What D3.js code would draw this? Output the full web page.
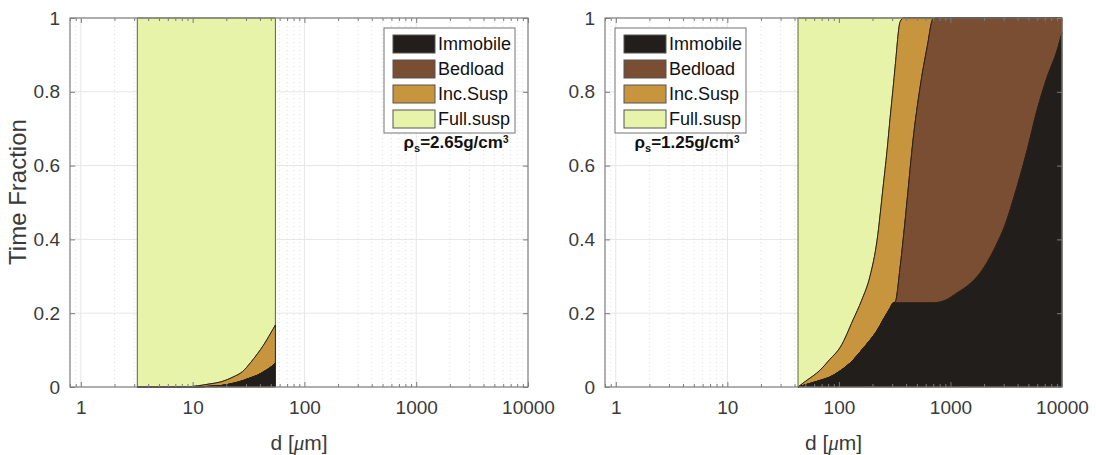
<!DOCTYPE html>
<html>
<head>
<meta charset="utf-8">
<script src="https://cdn.jsdelivr.net/npm/d3@7"></script>
<style>
  body { margin: 0; background: #fff; }
  text { font-family: "Liberation Sans", Arial, sans-serif; }
</style>
</head>
<body>
<svg id="chart" width="1096" height="455"></svg>
<script>
// classes, bottom to top
var classes = ["Immobile", "Bedload", "Inc.Susp", "Full.susp"];
var colors = ["#221e1b", "#7a4e33", "#c8953f", "#e6f3a8"];

var xTicks = [1, 10, 100, 1000, 10000];
var yTicks = [0, 0.2, 0.4, 0.6, 0.8, 1];

// rho_s = 2.65 g/cm3
var dLeft        = [3.2, 5, 8, 11, 14, 18, 23, 28, 33, 38, 43, 48, 52, 55];
var immobileLeft = [0, 0, 0, 0, 0.002, 0.004, 0.01, 0.017, 0.025, 0.032, 0.041, 0.05, 0.058, 0.065];
var bedloadLeft  = [0, 0, 0, 0, 0, 0, 0, 0, 0, 0, 0, 0, 0, 0];
var incSuspLeft  = [0, 0, 0, 0.003, 0.006, 0.01, 0.017, 0.025, 0.041, 0.058, 0.072, 0.087, 0.097, 0.103];

// rho_s = 1.25 g/cm3
var dRight        = [43, 50, 68, 83, 103, 134, 160, 190, 220, 249, 270, 288, 306, 319, 354, 380, 409, 462, 535, 618, 700,
                     900, 1148, 1500, 1845, 2200, 2624, 3100, 3648, 4200, 4873, 5986, 7362, 9057, 10000];
var immobileRight = [0, 0.006, 0.018, 0.027, 0.044, 0.073, 0.1, 0.127, 0.153, 0.182, 0.2, 0.214, 0.228, 0.228, 0.228, 0.228, 0.228, 0.228, 0.228, 0.228, 0.228,
                     0.235, 0.255, 0.28, 0.309, 0.345, 0.39, 0.44, 0.507, 0.57, 0.642, 0.751, 0.84, 0.913, 0.96];
var bedloadRight  = [0, 0, 0, 0, 0, 0, 0, 0, 0, 0, 0, 0, 0, 0.002, 0.097, 0.182, 0.279, 0.441, 0.585, 0.693, 0.77,
                     0.765, 0.745, 0.72, 0.691, 0.655, 0.61, 0.56, 0.493, 0.43, 0.358, 0.249, 0.16, 0.087, 0.04];
var incSuspRight  = [0, 0.009, 0.028, 0.048, 0.064, 0.109, 0.135, 0.173, 0.245, 0.36, 0.44, 0.516, 0.582, 0.637, 0.665, 0.59, 0.493, 0.331, 0.187, 0.079, 0.002,
                     0, 0, 0, 0, 0, 0, 0, 0, 0, 0, 0, 0, 0, 0];

var svg = d3.select("#chart");
var yTop = 18, yBottom = 387;

var y = d3.scaleLinear().domain([0, 1]).range([yBottom, yTop]);

function drawPanel(x0, x1, d, immobile, bedload, inc, rhoText, legendX, yTitle) {
  var x = d3.scaleLog().domain([0.8, 10000]).range([x0, x1]);
  var g = svg.append("g");

  var allTicks = x.ticks();
  var minor = allTicks.filter(function(t) { return xTicks.indexOf(t) < 0; });

  // grid
  g.selectAll(".minorgrid").data(minor).enter().append("line")
    .attr("x1", function(t) { return x(t); }).attr("x2", function(t) { return x(t); })
    .attr("y1", yTop).attr("y2", yBottom)
    .attr("stroke", "#d4d4d4").attr("stroke-width", 0.7).attr("stroke-dasharray", "1,3");
  g.selectAll(".vgrid").data(xTicks).enter().append("line")
    .attr("x1", function(t) { return x(t); }).attr("x2", function(t) { return x(t); })
    .attr("y1", yTop).attr("y2", yBottom)
    .attr("stroke", "#e6e6e6");
  g.selectAll(".hgrid").data(yTicks).enter().append("line")
    .attr("x1", x0).attr("x2", x1)
    .attr("y1", function(t) { return y(t); }).attr("y2", function(t) { return y(t); })
    .attr("stroke", "#e6e6e6");

  // stacked areas
  var rows = d.map(function(v, i) {
    return {
      d: v,
      "Immobile": immobile[i],
      "Bedload": bedload[i],
      "Inc.Susp": inc[i],
      "Full.susp": Math.max(0, 1 - immobile[i] - bedload[i] - inc[i])
    };
  });
  var series = d3.stack().keys(classes)(rows);
  var area = d3.area()
    .x(function(p) { return x(p.data.d); })
    .y0(function(p) { return y(p[0]); })
    .y1(function(p) { return y(p[1]); })
    .curve(d3.curveMonotoneX);

  g.selectAll(".layer").data(series.slice().reverse()).enter().append("path")
    .attr("d", area)
    .attr("fill", function(s) { return colors[classes.indexOf(s.key)]; })
    .attr("stroke", function(s) { return s.key === "Full.susp" ? "#5d6638" : "#2a1f14"; })
    .attr("stroke-width", 1);

  // inner ticks (bottom / top / left / right)
  var axB = g.append("g").attr("transform", "translate(0," + yBottom + ")")
    .call(d3.axisBottom(x).tickValues(xTicks).tickSize(-5).tickFormat(""));
  var axBm = g.append("g").attr("transform", "translate(0," + yBottom + ")")
    .call(d3.axisBottom(x).tickValues(minor).tickSize(-3).tickFormat(""));
  var axT = g.append("g").attr("transform", "translate(0," + yTop + ")")
    .call(d3.axisTop(x).tickValues(xTicks).tickSize(-5).tickFormat(""));
  var axTm = g.append("g").attr("transform", "translate(0," + yTop + ")")
    .call(d3.axisTop(x).tickValues(minor).tickSize(-3).tickFormat(""));
  var axL = g.append("g").attr("transform", "translate(" + x0 + ",0)")
    .call(d3.axisLeft(y).tickValues(yTicks).tickSize(-5).tickFormat(""));
  var axR = g.append("g").attr("transform", "translate(" + x1 + ",0)")
    .call(d3.axisRight(y).tickValues(yTicks).tickSize(-5).tickFormat(""));
  [axB, axBm, axT, axTm, axL, axR].forEach(function(a) {
    a.select(".domain").remove();
    a.selectAll("line").attr("stroke", "#7a7a7a");
  });

  // box
  g.append("rect").attr("x", x0).attr("y", yTop)
    .attr("width", x1 - x0).attr("height", yBottom - yTop)
    .attr("fill", "none").attr("stroke", "#808080").attr("stroke-width", 1.2);

  // tick labels
  var xl = g.append("g").attr("transform", "translate(0," + (yBottom + 10) + ")")
    .call(d3.axisBottom(x).tickValues(xTicks).tickSize(0).tickFormat(d3.format("d")));
  xl.select(".domain").remove();
  xl.selectAll("text").attr("font-size", 19).attr("fill", "#3a3a3a")
    .attr("font-family", "Liberation Sans, Arial, sans-serif");

  var yl = g.append("g").attr("transform", "translate(" + (x0 - 7) + ",0)")
    .call(d3.axisLeft(y).tickValues(yTicks).tickSize(0).tickFormat(function(t) { return t; }));
  yl.select(".domain").remove();
  yl.selectAll("text").attr("font-size", 19).attr("fill", "#3a3a3a")
    .attr("font-family", "Liberation Sans, Arial, sans-serif");

  // x title
  var xt = g.append("text").attr("x", (x0 + x1) / 2).attr("y", 450)
    .attr("text-anchor", "middle").attr("font-size", 21).attr("fill", "#3a3a3a");
  xt.append("tspan").text("d [");
  xt.append("tspan").attr("font-style", "italic").attr("font-family", "Liberation Serif, serif").text("\u03bc");
  xt.append("tspan").text("m]");

  if (yTitle) {
    g.append("text").attr("transform", "translate(26," + 192 + ") rotate(-90)")
      .attr("text-anchor", "middle").attr("font-size", 24).attr("fill", "#3a3a3a")
      .text(yTitle);
  }

  // legend
  var lg = g.append("g").attr("transform", "translate(" + legendX + ",28)");
  lg.append("rect").attr("width", 131).attr("height", 105)
    .attr("fill", "#fff").attr("stroke", "#8a8a8a").attr("stroke-width", 1.2);
  var items = lg.selectAll(".item").data(classes).enter().append("g")
    .attr("transform", function(c, i) { return "translate(9," + (7 + i * 25) + ")"; });
  items.append("rect").attr("width", 42).attr("height", 18)
    .attr("fill", function(c, i) { return colors[i]; })
    .attr("stroke", "#555").attr("stroke-width", 1);
  items.append("text").attr("x", 45).attr("y", 9).attr("dy", "0.36em")
    .attr("font-size", 18).attr("fill", "#111").text(function(c) { return c; });

  // density label
  var rt = g.append("text").attr("x", legendX + 72).attr("y", 148)
    .attr("text-anchor", "middle").attr("font-family", "Liberation Serif, serif")
    .attr("font-weight", "bold").attr("font-size", 17).attr("fill", "#111");
  rt.append("tspan").text("\u03c1");
  rt.append("tspan").attr("font-size", 11).attr("dy", 4).text("s");
  rt.append("tspan").attr("dy", -4).text(rhoText);
  rt.append("tspan").attr("font-size", 10).attr("dy", -5).text("3");
}

drawPanel(70, 528, dLeft, immobileLeft, bedloadLeft, incSuspLeft, "=2.65g/cm", 384, "Time Fraction");
drawPanel(605, 1062, dRight, immobileRight, bedloadRight, incSuspRight, "=1.25g/cm", 615, null);
</script>
</body>
</html>
